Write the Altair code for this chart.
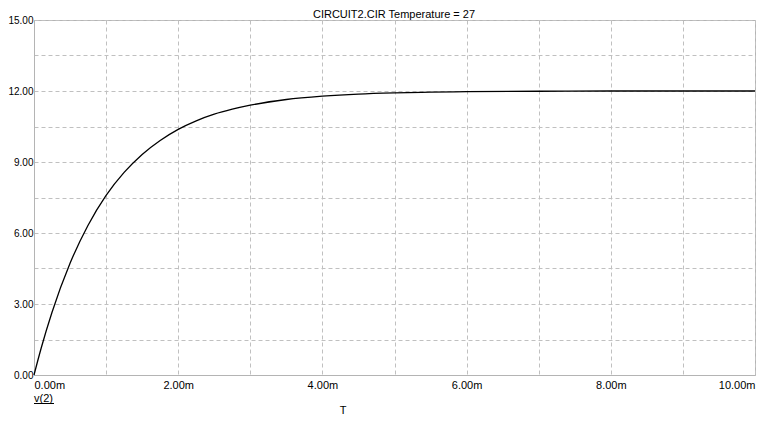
import altair as alt
import pandas as pd

# Time in ms, voltage v(2) in V
t_ms = [0.0, 0.1, 0.25, 0.5, 0.75, 1.0, 1.25, 1.5, 1.75, 2.0, 2.25, 2.5, 2.75,
        3.0, 3.5, 4.0, 4.5, 5.0, 5.5, 6.0, 7.0, 8.0, 9.0, 10.0]
v2 = [0.0, 1.14, 2.65, 4.72, 6.33, 7.59, 8.56, 9.32, 9.91, 10.38, 10.74, 11.02, 11.23,
      11.40, 11.64, 11.78, 11.87, 11.92, 11.95, 11.97, 11.99, 12.0, 12.0, 12.0]

x_grid = [0, 1, 2, 3, 4, 5, 6, 7, 8, 9, 10]
y_grid = [0, 1.5, 3, 4.5, 6, 7.5, 9, 10.5, 12, 13.5, 15]

title_text = "CIRCUIT2.CIR Temperature = 27"
trace_label = "v(2)"
x_label = "T"

df = pd.DataFrame({"t": t_ms, "v": v2})

FONT = "Liberation Sans"
GRAY = "#b4b4b4"

x_axis = alt.Axis(
    values=x_grid, grid=True, gridColor="#c0c0c0", gridDash=[4, 3],
    labelExpr="datum.value % 2 == 0 ? format(datum.value, '.2f') + 'm' : ''",
    labelFlush=True, labelOverlap=False, ticks=False, labelPadding=4,
    domainColor=GRAY, labelFont=FONT, labelFontSize=11, labelColor="#000000",
    title=None,
)
y_axis = alt.Axis(
    values=y_grid, grid=True, gridColor="#c0c0c0", gridDash=[4, 3],
    labelExpr="datum.value % 3 == 0 ? format(datum.value, '.2f') : ''",
    labelOverlap=False, ticks=False, labelPadding=1, labelFlush=False,
    domainColor=GRAY, labelFont=FONT, labelFontSize=10, labelColor="#000000",
    title=None,
)

line = alt.Chart(df).mark_line(color="#000000", strokeWidth=1.3, interpolate="monotone").encode(
    x=alt.X("t:Q", scale=alt.Scale(domain=[0, 10], nice=False), axis=x_axis),
    y=alt.Y("v:Q", scale=alt.Scale(domain=[0, 15], nice=False), axis=y_axis),
)

title = alt.Chart(pd.DataFrame({"s": [title_text]})).mark_text(
    font=FONT, fontSize=11, align="center", baseline="alphabetic", color="#000000"
).encode(x=alt.value(360), y=alt.value(-2), text="s:N")

lab = alt.Chart(pd.DataFrame({"s": [trace_label]})).mark_text(
    font=FONT, fontSize=11, align="left", baseline="middle", color="#000000"
).encode(x=alt.value(0), y=alt.value(379), text="s:N")

underline = alt.Chart(pd.DataFrame({"s": [trace_label]})).mark_rule(
    color="#000000", strokeWidth=1
).encode(x=alt.value(0), x2=alt.value(20), y=alt.value(383.5))

tlab = alt.Chart(pd.DataFrame({"s": [x_label]})).mark_text(
    font=FONT, fontSize=11, align="center", baseline="middle", color="#000000"
).encode(x=alt.value(309), y=alt.value(391), text="s:N")

chart = alt.layer(line, title, lab, underline, tlab).properties(
    width=721, height=355,
    autosize=alt.AutoSizeParams(type="none"),
    padding={"left": 26, "top": 12, "right": 4, "bottom": 40},
    background="#ffffff",
).configure_view(stroke=GRAY, strokeWidth=1)

chart.save("out.html", embed_options={"renderer": "svg", "actions": False})
